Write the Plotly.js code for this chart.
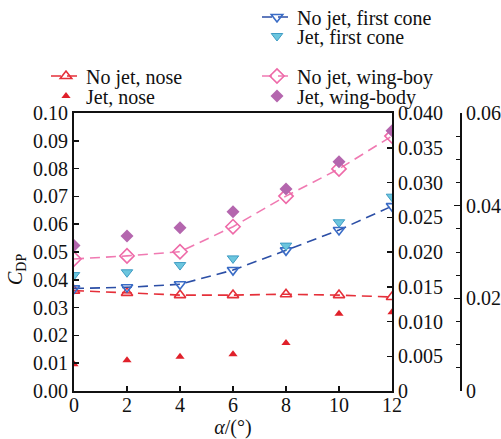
<!DOCTYPE html>
<html><head><meta charset="utf-8">
<script src="https://cdn.plot.ly/plotly-3.0.1.min.js"></script>
<style>body{margin:0;background:#fff}#c{width:501px;height:439px}</style>
</head><body><div id="c"></div>
<script>
const alpha = [0, 2, 4, 6, 8, 10, 12];
const noJetNose = [0.0361, 0.0353, 0.0345, 0.0345, 0.0348, 0.0345, 0.0338];
const jetNose = [0.0096, 0.0111, 0.0123, 0.0132, 0.0173, 0.0278, 0.0283];
const noJetCone = [0.0369, 0.0373, 0.0384, 0.0435, 0.0506, 0.0579, 0.0665];
const jetCone = [0.0417, 0.0427, 0.0453, 0.0477, 0.0523, 0.0607, 0.0699];
const noJetWing = [0.0475, 0.0486, 0.0501, 0.0591, 0.0701, 0.0799, 0.0917];
const jetWing = [0.0523, 0.0558, 0.0587, 0.0645, 0.0727, 0.0825, 0.0936];
const names = ["No jet, nose", "Jet, nose", "No jet, first cone", "Jet, first cone", "No jet, wing-boy", "Jet, wing-body"];
const leftTicks = [0, 0.01, 0.02, 0.03, 0.04, 0.05, 0.06, 0.07, 0.08, 0.09, 0.10];
const midTickVals = [0, 0.005, 0.01, 0.015, 0.02, 0.025, 0.03, 0.035, 0.04];
const midTickText = ["0", "0.005", "0.010", "0.015", "0.020", "0.025", "0.030", "0.035", "0.040"];
const farTickVals = [0, 0.02, 0.04, 0.06];
const farTickText = ["0", "0.02", "0.04", "0.06"];
const yTitle = "<i>C</i><sub>DP</sub>";
const xTitle = "<i>α</i>/(°)";

const F = "'Liberation Serif', 'Times New Roman', 'DejaVu Serif', serif";
const dash = "10px,6px";
const traces = [
  {x: alpha, y: noJetNose, name: names[0], mode: "lines+markers", legend: "legend",
   line: {color: "#e5303a", width: 1.6, dash: dash},
   marker: {symbol: "triangle-up-open", size: 10, color: "#e5303a", line: {width: 1.6}}},
  {x: alpha, y: jetNose, name: names[1], mode: "markers", legend: "legend2",
   marker: {symbol: "triangle-up", size: 8, color: "#e0202a"}},
  {x: alpha, y: noJetCone, name: names[2], mode: "lines+markers", legend: "legend3",
   line: {color: "#2c4fa6", width: 1.6, dash: dash},
   marker: {symbol: "triangle-down-open", size: 10, color: "#3a6cc6", line: {width: 1.6}}},
  {x: alpha, y: jetCone, name: names[3], mode: "markers", legend: "legend4",
   marker: {symbol: "triangle-down", size: 10, color: "#6cc6de", line: {color: "#3f9cc4", width: 1}}},
  {x: alpha, y: noJetWing, name: names[4], mode: "lines+markers", legend: "legend5",
   line: {color: "#f07ab2", width: 1.6, dash: dash},
   marker: {symbol: "diamond-open", size: 11, color: "#ee6aa8", line: {width: 1.6}}},
  {x: alpha, y: jetWing, name: names[5], mode: "markers", legend: "legend6",
   marker: {symbol: "diamond", size: 10, color: "#b466ae"}}
];
traces.push({x: [0], y: [null], yaxis: "y2", showlegend: false, hoverinfo: "skip"});
traces.push({x: [0], y: [null], yaxis: "y3", showlegend: false, hoverinfo: "skip"});

const W = 396, H = 278;
function lg(xpx, ypx) {
  return {xref: "container", yref: "container", x: xpx / 501, y: 1 - ypx / 439,
    xanchor: "left", yanchor: "middle",
    bgcolor: "rgba(0,0,0,0)", font: {family: F, size: 20, color: "#111"}, itemwidth: 30};
}
const layout = {
  width: 501, height: 439,
  margin: {l: 74, r: 31, t: 113, b: 48, autoexpand: false},
  paper_bgcolor: "#fff", plot_bgcolor: "#fff",
  font: {family: F, size: 20, color: "#111"},
  showlegend: true,
  legend: lg(46, 76), legend2: lg(46, 96),
  legend3: lg(257, 17), legend4: lg(257, 36),
  legend5: lg(257, 76), legend6: lg(257, 96),
  annotations: [{text: yTitle, xref: "paper", yref: "paper", x: (16 - 74) / W, y: (391 - 270) / H,
    textangle: -90, showarrow: false, xanchor: "center", yanchor: "middle",
    font: {family: F, size: 20, color: "#111"}}],
  xaxis: {domain: [0, 318 / W], range: [0, 12], tickvals: alpha, showgrid: false, zeroline: false,
    showline: true, linecolor: "#111", linewidth: 2, mirror: true,
    ticks: "inside", ticklen: 5, tickwidth: 1.5, tickcolor: "#111", ticklabelstandoff: -5,
    tickfont: {family: F, size: 20}, automargin: false,
    title: {text: xTitle, font: {family: F, size: 20}, standoff: 0}},
  yaxis: {range: [0, 0.1], tickvals: leftTicks, tickformat: ".2f", showgrid: false, zeroline: false,
    showline: true, linecolor: "#111", linewidth: 2, automargin: false,
    ticks: "inside", ticklen: 5, tickwidth: 1.5, tickcolor: "#111",
    tickfont: {family: F, size: 20}},
  yaxis2: {overlaying: "y", side: "right", anchor: "x", range: [0, 0.04], automargin: false,
    tickvals: midTickVals, ticktext: midTickText, showgrid: false, zeroline: false,
    showline: true, linecolor: "#111", linewidth: 2,
    ticks: "inside", ticklen: 5, tickwidth: 1.5, tickcolor: "#111",
    tickfont: {family: F, size: 20}},
  yaxis3: {overlaying: "y", side: "right", anchor: "free", position: 387 / W, range: [0, 0.06],
    tickvals: farTickVals, ticktext: farTickText, showgrid: false, zeroline: false, automargin: false,
    showline: true, linecolor: "#111", linewidth: 2,
    ticks: "inside", ticklen: 6, tickwidth: 1.5, tickcolor: "#111",
    minor: {dtick: 0.005, ticks: "inside", ticklen: 4, tickcolor: "#111", tickwidth: 1},
    tickfont: {family: F, size: 20}}
};
Plotly.newPlot("c", traces, layout, {displayModeBar: false, staticPlot: true});
</script>
</body></html>
